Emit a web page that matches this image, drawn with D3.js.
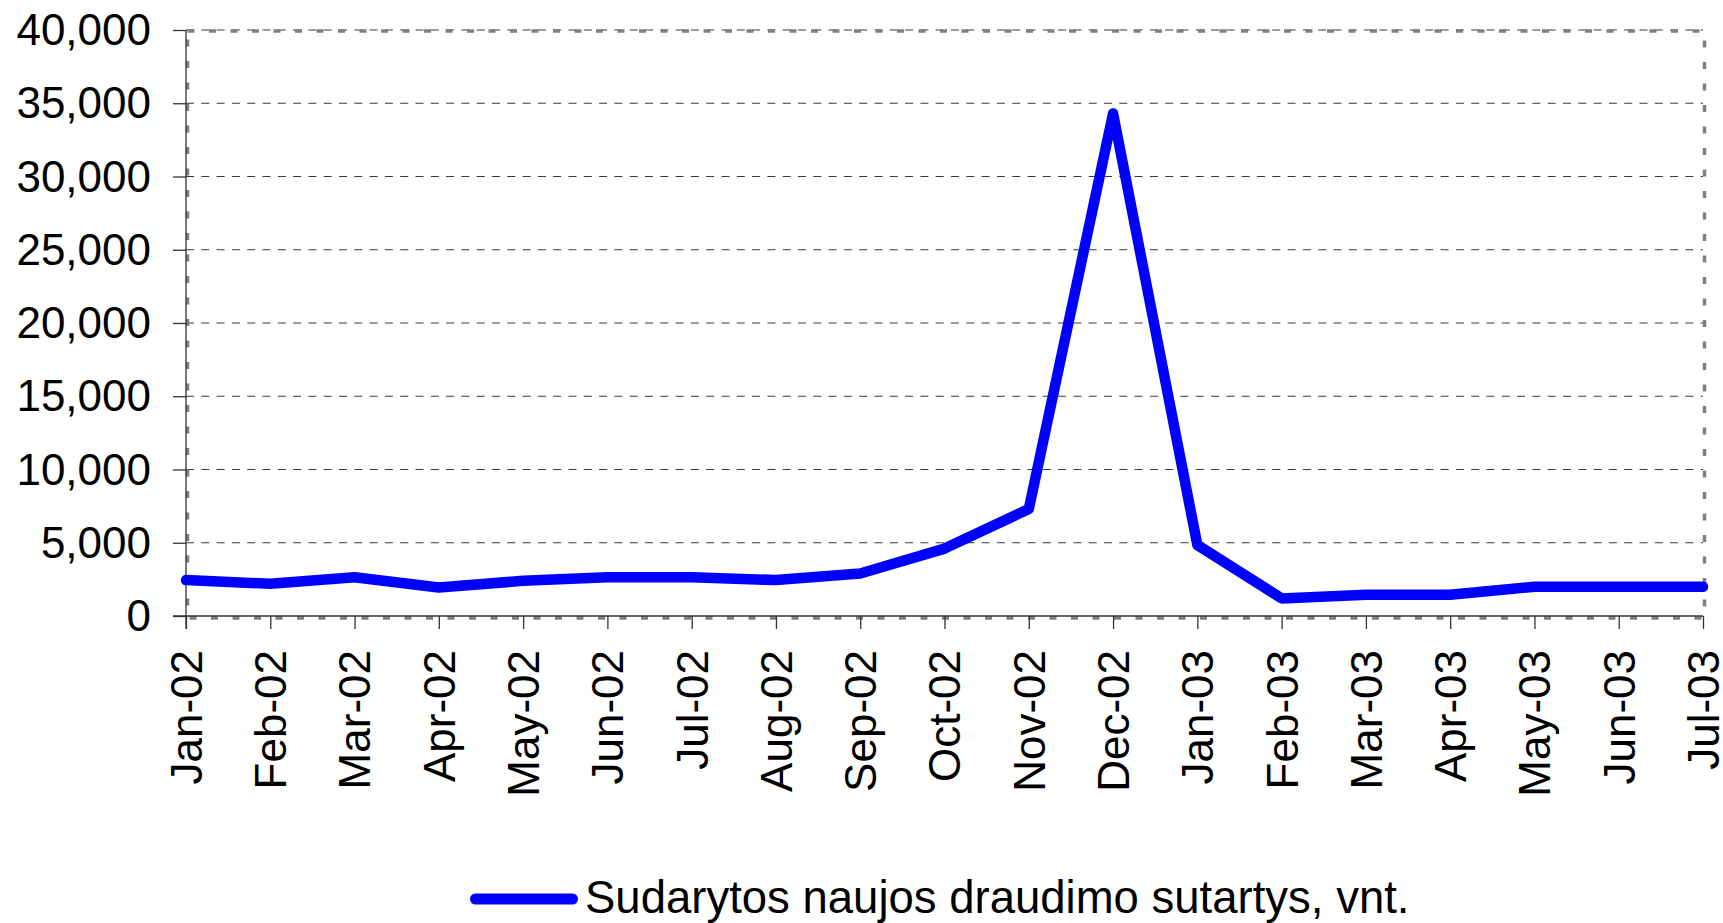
<!DOCTYPE html>
<html>
<head>
<meta charset="utf-8">
<script src="https://cdn.jsdelivr.net/npm/d3@7"></script>
<style>
  html, body { margin: 0; padding: 0; background: #fff; }
  svg { display: block; font-family: "Liberation Sans", Arial, sans-serif; }
</style>
</head>
<body>
<svg id="chart" width="1723" height="923"></svg>
<script>
const categories = ["Jan-02","Feb-02","Mar-02","Apr-02","May-02","Jun-02","Jul-02","Aug-02","Sep-02","Oct-02","Nov-02","Dec-02","Jan-03","Feb-03","Mar-03","Apr-03","May-03","Jun-03","Jul-03"];
const values = [2450, 2200, 2650, 1950, 2400, 2650, 2650, 2450, 2900, 4600, 7300, 34300, 4850, 1200, 1450, 1450, 2000, 2000, 2000];
const yTicks = [0, 5000, 10000, 15000, 20000, 25000, 30000, 35000, 40000];
const seriesName = "Sudarytos naujos draudimo sutartys, vnt.";

const svg = d3.select("#chart");
const pLeft = 186, pRight = 1703, pTop = 30, pBottom = 616;

const x = d3.scalePoint().domain(categories).range([pLeft, pRight]);
const y = d3.scaleLinear().domain([0, 40000]).range([pBottom, pTop]);

// gridlines
svg.append("g").selectAll("line").data(yTicks.filter(d => d > 0)).join("line")
  .attr("x1", pLeft).attr("x2", pRight)
  .attr("y1", d => y(d)).attr("y2", d => y(d))
  .attr("stroke", "#3a3a3a").attr("stroke-width", 1.2)
  .attr("stroke-dasharray", "8,7.3");

// plot border (gray dotted)
svg.append("rect")
  .attr("x", pLeft + 1.5).attr("y", pTop + 1)
  .attr("width", pRight - pLeft).attr("height", pBottom - pTop + 1)
  .attr("fill", "none").attr("stroke", "#808080").attr("stroke-width", 3.5)
  .attr("stroke-dasharray", "7,14.5");

// y axis
const yAxis = d3.axisLeft(y).tickValues(yTicks).tickFormat(d3.format(",")).tickSize(13).tickPadding(22);
const gy = svg.append("g").attr("transform", `translate(${pLeft},0)`).call(yAxis);
gy.select(".domain").attr("stroke", "#333").attr("stroke-width", 1.3).attr("d", `M0,${pTop}V${pBottom + 13}`);
gy.selectAll(".tick line").attr("stroke", "#333").attr("stroke-width", 1.3);
gy.selectAll(".tick text").attr("font-size", 44).attr("fill", "#000")
  .attr("font-family", "'Liberation Sans', Arial, sans-serif").attr("dy", "0.33em");

// x axis
const xAxis = d3.axisBottom(x).tickSize(13).tickPadding(0);
const gx = svg.append("g").attr("transform", `translate(0,${pBottom})`).call(xAxis);
gx.select(".domain").attr("stroke", "#333").attr("stroke-width", 1.3).attr("d", `M${pLeft - 13},0H${pRight}`);
gx.selectAll(".tick line").attr("stroke", "#333").attr("stroke-width", 1.3);
gx.selectAll(".tick text")
  .attr("font-size", 44).attr("fill", "#000")
  .attr("font-family", "'Liberation Sans', Arial, sans-serif")
  .attr("text-anchor", "end")
  .attr("transform", "translate(0,34) rotate(-90)")
  .attr("x", 0).attr("y", 0).attr("dy", "0.35em");

// series line
const line = d3.line().x((d, i) => x(categories[i])).y(d => y(d));
svg.append("path").datum(values)
  .attr("d", line)
  .attr("fill", "none").attr("stroke", "#0000ff").attr("stroke-width", 10.5)
  .attr("stroke-linejoin", "round").attr("stroke-linecap", "round");

// legend
const lg = svg.append("g");
lg.append("line").attr("x1", 475.5).attr("x2", 572.5).attr("y1", 899).attr("y2", 899)
  .attr("stroke", "#0000ff").attr("stroke-width", 11).attr("stroke-linecap", "round");
lg.append("text").attr("x", 585).attr("y", 913).attr("font-size", 45.5).attr("fill", "#000")
  .text(seriesName);
</script>
</body>
</html>
